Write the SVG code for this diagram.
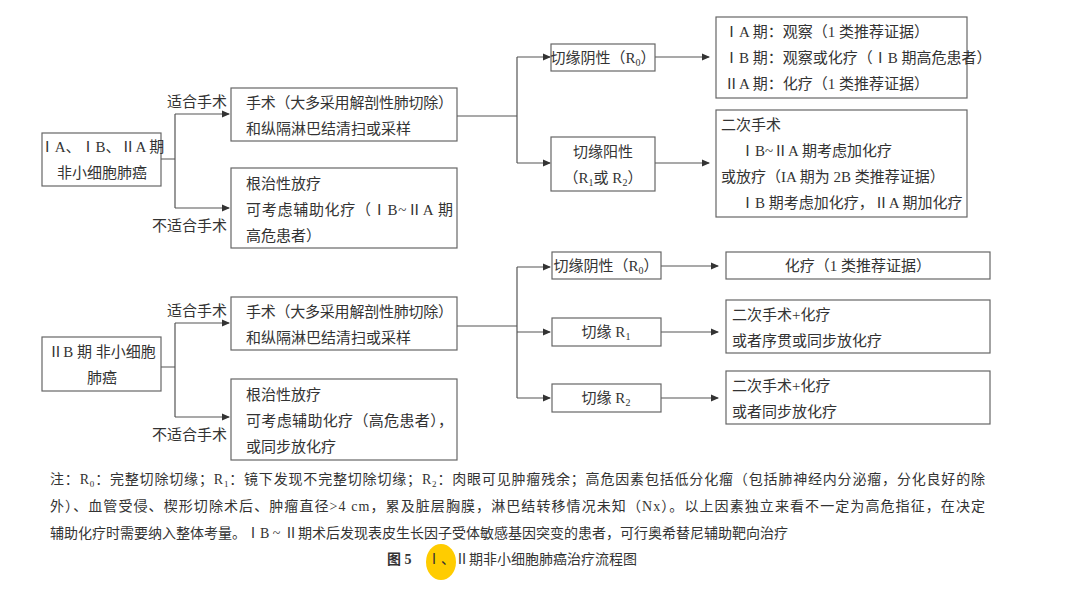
<svg xmlns="http://www.w3.org/2000/svg" width="1088" height="596" viewBox="0 0 1088 596">
<style>
text{font-family:"Liberation Serif","Noto Sans CJK SC",serif;font-size:15px;fill:#333}
.b{fill:#fff;stroke:#666;stroke-width:1.2}
.c{fill:none;stroke:#555;stroke-width:1.2}
.n{font-size:14px}
.m{text-anchor:middle}
.e{text-anchor:end}
</style>
<defs><marker id="a" markerWidth="8" markerHeight="8" refX="7" refY="4" orient="auto" markerUnits="userSpaceOnUse"><path d="M0,0.5 L8,4 L0,7.5Z" fill="#333"/></marker></defs>
<rect width="1088" height="596" fill="#fff"/>
<g id="connectors">
<path class="c" d="M161,159H175M175,114V208"/>
<path class="c" d="M175,114H229" marker-end="url(#a)"/>
<path class="c" d="M175,208H229" marker-end="url(#a)"/>
<path class="c" d="M457,116H517M517,57V163"/>
<path class="c" d="M517,57H550" marker-end="url(#a)"/>
<path class="c" d="M517,163H550" marker-end="url(#a)"/>
<path class="c" d="M655,57H709" marker-end="url(#a)"/>
<path class="c" d="M655,163H709" marker-end="url(#a)"/>
<path class="c" d="M161,367H175M175,323V417"/>
<path class="c" d="M175,323H229" marker-end="url(#a)"/>
<path class="c" d="M175,417H229" marker-end="url(#a)"/>
<path class="c" d="M457,326H517M517,267V398"/>
<path class="c" d="M517,267H550" marker-end="url(#a)"/>
<path class="c" d="M517,332H550" marker-end="url(#a)"/>
<path class="c" d="M517,398H550" marker-end="url(#a)"/>
<path class="c" d="M661,266H718" marker-end="url(#a)"/>
<path class="c" d="M661,332H718" marker-end="url(#a)"/>
<path class="c" d="M661,398H718" marker-end="url(#a)"/>
</g>
<g id="labels">
<text class="e" x="227" y="107">适合手术</text>
<text class="e" x="227" y="231">不适合手术</text>
<text class="e" x="227" y="316">适合手术</text>
<text class="e" x="227" y="440">不适合手术</text>
</g>
<g id="n1"><rect class="b" x="42" y="133" width="119" height="53"/><text class="m" x="102" y="152">ⅠA、ⅠB、ⅡA 期</text><text class="m" x="102" y="178">非小细胞肺癌</text></g>
<g id="n2"><rect class="b" x="231" y="88" width="226" height="53"/><text x="246" y="108" textLength="207">手术（大多采用解剖性肺切除）</text><text x="246" y="134">和纵隔淋巴结清扫或采样</text></g>
<g id="n3"><rect class="b" x="231" y="168" width="226" height="80"/><text x="246" y="189">根治性放疗</text><text x="246" y="215" textLength="207">可考虑辅助化疗（ⅠB~ⅡA 期</text><text x="246" y="241">高危患者）</text></g>
<g id="n4"><rect class="b" x="551" y="44" width="104" height="27"/><text class="m" x="603" y="63">切缘阴性（R<tspan font-size="10" dy="3">0</tspan><tspan dy="-3">）</tspan></text></g>
<g id="n5"><rect class="b" x="551" y="137" width="104" height="54"/><text class="m" x="603" y="157">切缘阳性</text><text class="m" x="603" y="183">（R<tspan font-size="10" dy="3">1</tspan><tspan dy="-3">或 R</tspan><tspan font-size="10" dy="3">2</tspan><tspan dy="-3">）</tspan></text></g>
<g id="n6"><rect class="b" x="716" y="17" width="251" height="81"/><text x="724" y="37">ⅠA 期：观察（1 类推荐证据）</text><text x="724" y="63">ⅠB 期：观察或化疗（ⅠB 期高危患者）</text><text x="724" y="89">ⅡA 期：化疗（1 类推荐证据）</text></g>
<g id="n7"><rect class="b" x="716" y="110" width="251" height="107"/><text x="721" y="130">二次手术</text><text x="740" y="156">ⅠB~ⅡA 期考虑加化疗</text><text x="721" y="182">或放疗（IA 期为 2B 类推荐证据）</text><text x="740" y="208">ⅠB 期考虑加化疗，ⅡA 期加化疗</text></g>
<g id="n8"><rect class="b" x="42" y="337" width="119" height="54"/><text class="m" x="102" y="357">ⅡB 期 非小细胞</text><text class="m" x="102" y="383">肺癌</text></g>
<g id="n9"><rect class="b" x="231" y="297" width="226" height="53"/><text x="246" y="317" textLength="207">手术（大多采用解剖性肺切除）</text><text x="246" y="343">和纵隔淋巴结清扫或采样</text></g>
<g id="n10"><rect class="b" x="231" y="379" width="226" height="81"/><text x="246" y="400">根治性放疗</text><text x="246" y="426" textLength="207">可考虑辅助化疗（高危患者），</text><text x="246" y="452">或同步放化疗</text></g>
<g id="n11"><rect class="b" x="552" y="252" width="109" height="27"/><text class="m" x="606" y="271">切缘阴性（R<tspan font-size="10" dy="3">0</tspan><tspan dy="-3">）</tspan></text></g>
<g id="n12"><rect class="b" x="552" y="318" width="109" height="28"/><text class="m" x="606" y="337">切缘 R<tspan font-size="10" dy="3">1</tspan></text></g>
<g id="n13"><rect class="b" x="552" y="384" width="109" height="28"/><text class="m" x="606" y="403">切缘 R<tspan font-size="10" dy="3">2</tspan></text></g>
<g id="n14"><rect class="b" x="726" y="252" width="264" height="27"/><text class="m" x="858" y="271">化疗（1 类推荐证据）</text></g>
<g id="n15"><rect class="b" x="726" y="300" width="264" height="53"/><text x="732" y="320">二次手术+化疗</text><text x="732" y="346">或者序贯或同步放化疗</text></g>
<g id="n16"><rect class="b" x="726" y="371" width="264" height="53"/><text x="732" y="391">二次手术+化疗</text><text x="732" y="417">或者同步放化疗</text></g>
<g id="notes">
<text class="n" x="50" y="484" textLength="935">注：R<tspan font-size="9" dy="3">0</tspan><tspan dy="-3">：完整切除切缘；R</tspan><tspan font-size="9" dy="3">1</tspan><tspan dy="-3">：镜下发现不完整切除切缘；R</tspan><tspan font-size="9" dy="3">2</tspan><tspan dy="-3">：肉眼可见肿瘤残余；高危因素包括低分化瘤（包括肺神经内分泌瘤，分化良好的除</tspan></text>
<text class="n" x="50" y="511" textLength="935">外）、血管受侵、楔形切除术后、肿瘤直径&gt;4 cm，累及脏层胸膜，淋巴结转移情况未知（Nx）。以上因素独立来看不一定为高危指征，在决定</text>
<text class="n" x="50" y="538">辅助化疗时需要纳入整体考量。ⅠB ~ Ⅱ期术后发现表皮生长因子受体敏感基因突变的患者，可行奥希替尼辅助靶向治疗</text>
<ellipse cx="441" cy="562" rx="15" ry="18" fill="#ffcc00"/>
<text class="n" x="387" y="564" font-weight="bold">图 5</text>
<text class="n" x="427" y="564">Ⅰ、Ⅱ期非小细胞肺癌治疗流程图</text>
</g>
</svg>
